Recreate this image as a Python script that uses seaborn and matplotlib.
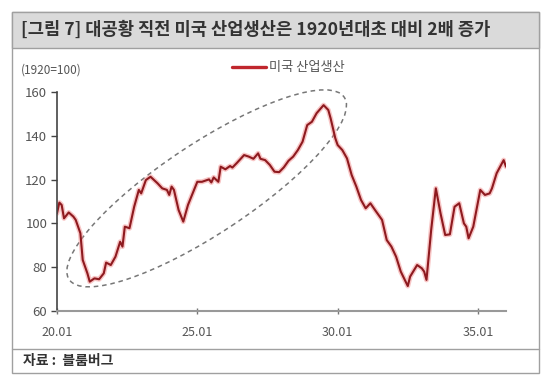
import matplotlib
matplotlib.use("Agg")
import matplotlib.pyplot as plt
import seaborn as sns
import pandas as pd
from matplotlib.patches import Rectangle, Ellipse
from matplotlib.lines import Line2D
from matplotlib.transforms import ScaledTranslation

# months since 1920.01 and index values (1920=100)
months = [0, 1, 2, 3, 5, 7, 8, 10, 11, 13, 14, 16, 18, 20, 21, 23, 25, 27, 28, 29,
          31, 33, 35, 36, 38, 40, 43, 45, 47, 48, 49, 50, 52, 54, 56, 58, 60, 62, 65, 66,
          67, 69, 70, 72, 74, 75, 77, 80, 82, 84, 86, 87, 89, 91, 93, 95, 97, 99, 101, 103,
          105, 107, 109, 111, 114, 116, 117, 119, 120, 122, 124, 126, 128, 130, 132, 134, 136, 139, 141, 143,
          145, 147, 150, 151, 154, 156, 157, 158, 160, 162, 164, 166, 168, 170, 172, 174, 175, 176, 178, 181,
          183, 185, 186, 188, 191, 192]
production = [104.6, 109.5, 108.4, 102.3, 105.0, 103.1, 101.6, 95.5, 83.3, 77.2, 73.4, 74.9, 74.5, 77.2, 82.1, 81.0, 84.8, 91.6, 89.4, 98.5,
              97.8, 107.6, 115.3, 113.7, 119.8, 121.3, 118.3, 116.0, 115.3, 113.0, 116.8, 115.3, 106.1, 100.8, 108.4, 113.7, 119.0, 119.0, 120.1, 118.7,
              121.0, 119.0, 125.9, 124.7, 126.2, 125.5, 127.7, 131.2, 130.5, 129.5, 132.0, 129.5, 128.9, 126.7, 123.6, 123.4, 125.6, 128.6, 130.5, 133.5,
              137.3, 144.9, 146.4, 150.3, 154.0, 151.8, 148.0, 138.9, 135.8, 133.5, 129.7, 122.1, 116.8, 110.7, 106.9, 109.2, 106.1, 101.6, 92.4, 89.4,
              84.8, 78.0, 71.4, 75.7, 81.0, 79.5, 78.0, 74.2, 97.0, 116.0, 104.6, 94.7, 95.0, 107.6, 109.2, 100.0, 98.5, 93.2, 98.5, 115.3,
              113.0, 113.7, 116.0, 122.9, 128.9, 125.9]
tick_months = [0, 60, 120, 180]
tick_labels = ["20.01", "25.01", "30.01", "35.01"]
y_ticks = [60, 80, 100, 120, 140, 160]

title = "[그림 7] 대공황 직전 미국 산업생산은 1920년대초 대비 2배 증가"
series_name = "미국 산업생산"
unit_label = "(1920=100)"
source = "자료 :  블룸버그"

df = pd.DataFrame({"month": months, "value": production})

sns.set_style("white")
plt.rcParams['font.family'] = ['Noto Sans CJK KR', 'DejaVu Sans']

W, H = 556, 388
fig = plt.figure(figsize=(W / 100, H / 100), dpi=100)


def fx(x):
    return x / W


def fy(y):
    return 1 - y / H


# outer frame, header band and footer separator (behind the axes)
fig.add_artist(Rectangle((fx(12), fy(373)), fx(539) - fx(12), fy(12) - fy(373),
                         transform=fig.transFigure, facecolor="white", edgecolor="#a0a0a0",
                         lw=1.0, zorder=-5))
fig.add_artist(Rectangle((fx(12), fy(48)), fx(539) - fx(12), fy(12) - fy(48),
                         transform=fig.transFigure, facecolor="#dadada", edgecolor="#a0a0a0",
                         lw=1.0, zorder=-4))
fig.add_artist(Line2D([fx(12), fx(539)], [fy(349), fy(349)], transform=fig.transFigure,
                      color="#a0a0a0", lw=1.0, zorder=-4))

fig.text(fx(21), fy(30), title, fontsize=12.7, fontweight="bold", color="#333333", va="center")
fig.text(fx(23), fy(361), source, fontsize=10, fontweight="bold", color="#333333", va="center")
fig.text(fx(21), fy(70), unit_label, fontsize=8.5, color="#555555", va="center")

ax = fig.add_axes([fx(57), fy(311), fx(506) - fx(57), fy(92) - fy(311)])
ax.set_zorder(2)

sns.lineplot(data=df, x="month", y="value", ax=ax, color="#f08080", lw=3.6, alpha=0.45)
sns.lineplot(data=df, x="month", y="value", ax=ax, color="#8e1a1f", lw=1.5)

ax.set_xlim(0, 192)
ax.set_ylim(60, 160)
ax.set_xticks(tick_months)
ax.set_xticklabels(tick_labels)
ax.set_yticks(y_ticks)
ax.set_xlabel("")
ax.set_ylabel("")
ax.set_facecolor("none")

for side in ["top", "right"]:
    ax.spines[side].set_visible(False)
ax.spines["left"].set_color("#444444")
ax.spines["left"].set_linewidth(1.2)
ax.spines["bottom"].set_color("#999999")
ax.spines["bottom"].set_linewidth(1.5)
ax.tick_params(axis="y", direction="out", length=4, width=1, color="#444444",
               labelsize=9.5, labelcolor="#555555", pad=3)
ax.tick_params(axis="x", direction="inout", length=5, width=1, color="#777777",
               labelsize=9, labelcolor="#555555", pad=8)
ax.yaxis.set_tick_params(left=True)
ax.xaxis.set_tick_params(bottom=True)

# dashed ellipse around the 1920s rise
offset = fig.dpi_scale_trans + ScaledTranslation(64.0, 116.0, ax.transData)
ell = Ellipse((0, 0), width=3.30, height=0.90, angle=33.5, transform=offset,
              fill=False, edgecolor="#777777", lw=1.1, linestyle=(0, (3, 2.5)), clip_on=False)
ax.add_artist(ell)

handle = Line2D([], [], color="#c0262d", lw=2.4)
fig.legend([handle], [series_name], loc="center left", bbox_to_anchor=(fx(220), fy(68)),
           frameon=False, handlelength=2.6, handletextpad=0.2, fontsize=9.5, labelcolor="#555555")

fig.savefig("out.png", dpi=100)
